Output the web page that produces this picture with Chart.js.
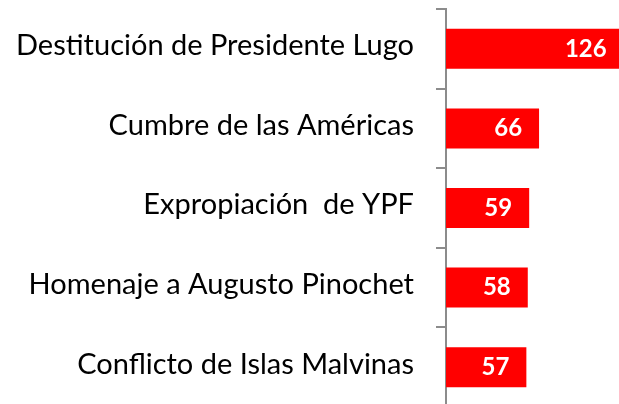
<!DOCTYPE html>
<html>
<head>
<meta charset="utf-8">
<script src="https://cdn.jsdelivr.net/npm/chart.js@4"></script>
<style>
    html, body { margin: 0; padding: 0; background: #fff; overflow: hidden; }
    #wrap { position: relative; width: 619px; height: 412px; }
</style>
</head>
<body>
<div id="wrap"><canvas id="chart"></canvas></div>
<script>
// Chart data
const categories = [
    'Destitución de Presidente Lugo',
    'Cumbre de las Américas',
    'Expropiación  de YPF',
    'Homenaje a Augusto Pinochet',
    'Conflicto de Islas Malvinas'
];
const values = [126, 66, 59, 58, 57];

// Draw the value inside the right end of every bar
const barValueLabels = {
    id: 'barValueLabels',
    afterDatasetsDraw(chart) {
        const ctx = chart.ctx;
        const meta = chart.getDatasetMeta(0);
        ctx.save();
        ctx.font = 'bold 24px Lato';
        ctx.fillStyle = '#ffffff';
        ctx.textAlign = 'right';
        ctx.textBaseline = 'middle';
        meta.data.forEach((bar, i) => {
            ctx.fillText(values[i], bar.x - 17, bar.y);
        });
        ctx.restore();
    }
};

const ctx = document.getElementById('chart').getContext('2d');
new Chart(ctx, {
    type: 'bar',
    data: {
        labels: categories,
        datasets: [{
            data: values,
            backgroundColor: '#ff0000',
            borderWidth: 0,
            categoryPercentage: 1,
            barPercentage: 0.503
        }]
    },
    options: {
        indexAxis: 'y',
        responsive: true,
        maintainAspectRatio: false,
        animation: false,
        layout: { padding: { top: 9, bottom: 5, left: 0, right: 0 } },
        plugins: {
            legend: { display: false },
            tooltip: { enabled: false }
        },
        scales: {
            x: {
                display: false,
                min: 0,
                max: 122.7
            },
            y: {
                afterFit(scale) {
                    scale.width = 446;
                    // no extra room above/below for the labels
                    scale.paddingTop = 0;
                    scale.paddingBottom = 0;
                },
                border: { display: true, color: '#8c8c8c', width: 2 },
                grid: {
                    offset: true,
                    drawOnChartArea: false,
                    drawTicks: true,
                    tickLength: 10,
                    color: '#8c8c8c',
                    lineWidth: 2
                },
                ticks: {
                    color: '#000000',
                    padding: 22,
                    labelOffset: -3,
                    font: { family: 'Lato', size: 29 }
                }
            }
        }
    },
    plugins: [barValueLabels]
});
</script>
</body>
</html>
